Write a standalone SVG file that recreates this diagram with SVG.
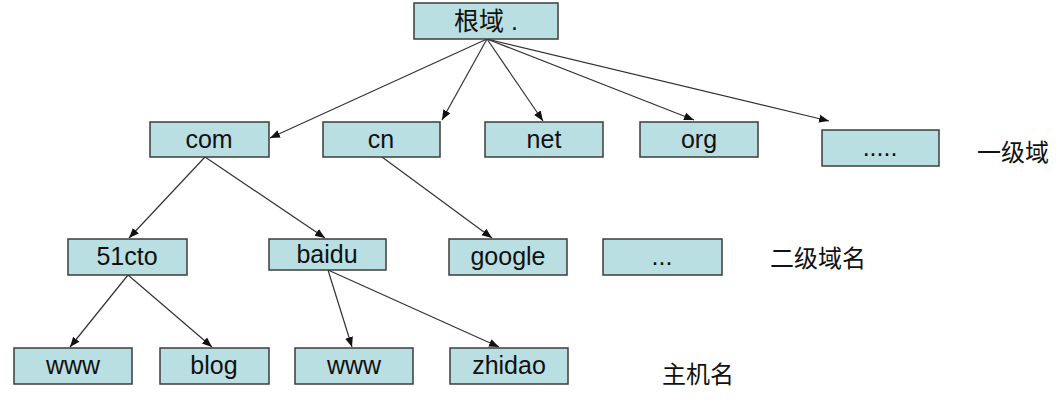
<svg xmlns="http://www.w3.org/2000/svg" width="1063" height="419" viewBox="0 0 1063 419">
<style>
.b{fill:#badfe3;stroke:#3c3c3c;stroke-width:1.5}
.t{font-family:"Liberation Sans","Noto Sans CJK SC",sans-serif;font-size:25px;fill:#111;text-anchor:middle}
.l{font-family:"Noto Sans CJK SC",sans-serif;font-size:24px;fill:#111}
.c line{stroke:#333;stroke-width:1.2;marker-end:url(#a)}
</style>
<defs><marker id="a" viewBox="0 0 10 10" refX="10" refY="5" markerWidth="10" markerHeight="10" markerUnits="userSpaceOnUse" orient="auto"><path d="M0,1 L10,5 L0,9 z" fill="#111"/></marker></defs>
<rect width="1063" height="419" fill="#fff"/>
<g class="c">
<line x1="487" y1="39" x2="270" y2="138"/>
<line x1="487" y1="39" x2="442" y2="120"/>
<line x1="487" y1="39" x2="543" y2="121"/>
<line x1="487" y1="39" x2="694" y2="120"/>
<line x1="487" y1="39" x2="829" y2="121"/>
<line x1="205" y1="157" x2="129" y2="238"/>
<line x1="205" y1="157" x2="325" y2="238"/>
<line x1="382" y1="157" x2="492" y2="238"/>
<line x1="128" y1="275" x2="70" y2="347"/>
<line x1="128" y1="275" x2="212" y2="347"/>
<line x1="328" y1="270" x2="352" y2="347"/>
<line x1="328" y1="270" x2="499" y2="347"/>
</g>
<g id="root"><rect class="b" x="414" y="3" width="144" height="36"/><text class="t" x="486" y="30">根域 .</text></g>
<g id="com"><rect class="b" x="150" y="122" width="119" height="35"/><text class="t" x="209" y="148">com</text></g>
<g id="cn"><rect class="b" x="323" y="122" width="117" height="35"/><text class="t" x="381" y="148">cn</text></g>
<g id="net"><rect class="b" x="485" y="122" width="118" height="35"/><text class="t" x="544" y="148">net</text></g>
<g id="org"><rect class="b" x="640" y="122" width="118" height="35"/><text class="t" x="699" y="148">org</text></g>
<g id="more1"><rect class="b" x="822" y="130" width="117" height="36"/><text class="t" x="880" y="156">.....</text></g>
<g id="cto"><rect class="b" x="68" y="239" width="119" height="36"/><text class="t" x="127" y="265">51cto</text></g>
<g id="baidu"><rect class="b" x="269" y="239" width="117" height="31"/><text class="t" x="327" y="263">baidu</text></g>
<g id="google"><rect class="b" x="449" y="239" width="118" height="36"/><text class="t" x="508" y="265">google</text></g>
<g id="more2"><rect class="b" x="603" y="239" width="119" height="36"/><text class="t" x="662" y="265">...</text></g>
<g id="www1"><rect class="b" x="14" y="348" width="118" height="36"/><text class="t" x="73" y="374">www</text></g>
<g id="blog"><rect class="b" x="160" y="348" width="109" height="36"/><text class="t" x="214" y="374">blog</text></g>
<g id="www2"><rect class="b" x="295" y="348" width="118" height="36"/><text class="t" x="354" y="374">www</text></g>
<g id="zhidao"><rect class="b" x="450" y="348" width="118" height="36"/><text class="t" x="509" y="374">zhidao</text></g>
<text class="l" x="977" y="161">一级域</text>
<text class="l" x="770" y="267">二级域名</text>
<text class="l" x="662" y="383">主机名</text>
</svg>
